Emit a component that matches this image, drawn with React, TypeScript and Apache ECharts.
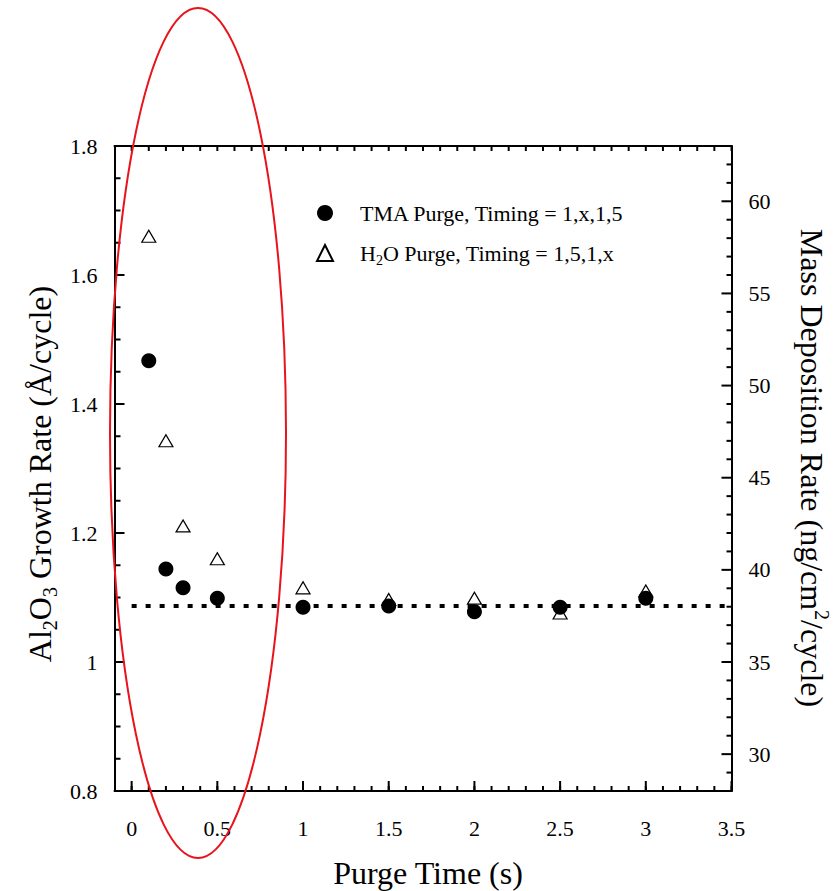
import React, { useEffect, useRef } from "react";
import * as echarts from "echarts";

const FONT = "'Liberation Serif', 'DejaVu Serif', serif";

// Purge times (s) and growth rates (Å/cycle)
const tmaX = [0.1, 0.2, 0.3, 0.5, 1, 1.5, 2, 2.5, 3];
const tmaY = [1.467, 1.144, 1.115, 1.099, 1.085, 1.087, 1.078, 1.085, 1.099];
const h2oX = [0.1, 0.2, 0.3, 0.5, 1, 1.5, 2, 2.5, 3];
const h2oY = [1.66, 1.343, 1.211, 1.16, 1.115, 1.097, 1.099, 1.076, 1.11];

const saturationX = [0, 3.5];
const saturationY = 1.087;

const xTickLabels = [0, 0.5, 1, 1.5, 2, 2.5, 3, 3.5];
const xMinorTicks = [
  0, 0.1, 0.2, 0.3, 0.4, 0.5, 0.6, 0.7, 0.8, 0.9, 1, 1.1, 1.2, 1.3, 1.4, 1.5,
  1.6, 1.7, 1.8, 1.9, 2, 2.1, 2.2, 2.3, 2.4, 2.5, 2.6, 2.7, 2.8, 2.9, 3, 3.1,
  3.2, 3.3, 3.4, 3.5,
];
const leftTickLabels = [0.8, 1, 1.2, 1.4, 1.6, 1.8];
const leftMinorTicks = [
  0.85, 0.9, 0.95, 1.05, 1.1, 1.15, 1.25, 1.3, 1.35, 1.45, 1.5, 1.55, 1.65,
  1.7, 1.75,
];
const rightTickLabels = [30, 35, 40, 45, 50, 55, 60];
const rightMinorTicks = [
  28, 29, 31, 32, 33, 34, 36, 37, 38, 39, 41, 42, 43, 44, 46, 47, 48, 49, 51,
  52, 53, 54, 56, 57, 58, 59, 61, 62, 63,
];

const X_MIN = -0.1;
const X_MAX = 3.5;
const Y_MIN = 0.8;
const Y_MAX = 1.8;
const R_MIN = 28;
const R_MAX = 63;

const tmaName = "TMA Purge, Timing = 1,x,1,5";
const h2oName = "H2O Purge, Timing = 1,5,1,x";

function tickSeries(
  points: number[][],
  yAxisIndex: number,
  dx: number,
  dy: number
) {
  return {
    type: "custom",
    xAxisIndex: 0,
    yAxisIndex,
    silent: true,
    clip: false,
    z: 5,
    encode: { x: 0, y: 1 },
    data: points,
    renderItem: (_params: any, api: any) => {
      const p = api.coord([api.value(0), api.value(1)]);
      return {
        type: "line",
        shape: { x1: p[0], y1: p[1], x2: p[0] + dx, y2: p[1] + dy },
        style: { stroke: "#000", lineWidth: 2 },
      };
    },
  };
}

export default function App() {
  const ref = useRef<HTMLDivElement>(null);

  useEffect(() => {
    if (!ref.current) return;
    const chart = echarts.init(ref.current, undefined, { renderer: "svg" });

    const axisLine = () => ({
      show: true,
      onZero: false,
      lineStyle: { color: "#000", width: 2 },
    });
    const labelStyle = () => ({ color: "#000", fontFamily: FONT, fontSize: 22 });

    const option: any = {
      animation: false,
      backgroundColor: "#fff",
      textStyle: { fontFamily: FONT },
      grid: { left: 114.5, top: 146, width: 617, height: 645 },
      legend: {
        orient: "vertical",
        left: 311,
        top: 197,
        itemWidth: 16,
        itemHeight: 16,
        itemGap: 18,
        data: [tmaName, h2oName],
        formatter: (name: string) =>
          name === h2oName
            ? "{n|H}{s|2}{n|O Purge, Timing = 1,5,1,x}"
            : "{n|" + name + "}",
        textStyle: {
          color: "#000",
          fontFamily: FONT,
          fontSize: 22,
          padding: [0, 0, 0, 22],
          rich: {
            n: { color: "#000", fontFamily: FONT, fontSize: 22, lineHeight: 28 },
            s: {
              color: "#000",
              fontFamily: FONT,
              fontSize: 14,
              lineHeight: 14,
              verticalAlign: "bottom",
            },
          },
        },
      },
      xAxis: [
        {
          type: "value",
          position: "bottom",
          min: X_MIN,
          max: X_MAX,
          axisLine: axisLine(),
          splitLine: { show: false },
          axisTick: { show: false },
          axisLabel: { ...labelStyle(), margin: 26, customValues: xTickLabels },
        },
        {
          type: "value",
          position: "top",
          min: X_MIN,
          max: X_MAX,
          axisLine: axisLine(),
          splitLine: { show: false },
          axisTick: { show: false },
          axisLabel: { show: false },
        },
      ],
      yAxis: [
        {
          type: "value",
          position: "left",
          min: Y_MIN,
          max: Y_MAX,
          interval: 0.2,
          axisLine: axisLine(),
          splitLine: { show: false },
          axisTick: { show: false },
          axisLabel: { ...labelStyle(), margin: 17 },
        },
        {
          type: "value",
          position: "right",
          min: R_MIN,
          max: R_MAX,
          axisLine: axisLine(),
          splitLine: { show: false },
          axisTick: { show: false },
          axisLabel: { ...labelStyle(), margin: 17, customValues: rightTickLabels },
        },
      ],
      series: [
        {
          name: "saturation",
          type: "line",
          xAxisIndex: 0,
          yAxisIndex: 0,
          data: saturationX.map((x) => [x, saturationY]),
          symbol: "none",
          silent: true,
          lineStyle: { color: "#000", width: 4, type: [5, 9] },
          z: 1,
        },
        {
          name: h2oName,
          type: "scatter",
          xAxisIndex: 0,
          yAxisIndex: 0,
          data: h2oX.map((x, i) => [x, h2oY[i]]),
          symbol: "triangle",
          symbolSize: [14, 12],
          itemStyle: { color: "#fff", borderColor: "#000", borderWidth: 1.2, opacity: 1 },
          z: 2,
        },
        {
          name: tmaName,
          type: "scatter",
          xAxisIndex: 0,
          yAxisIndex: 0,
          data: tmaX.map((x, i) => [x, tmaY[i]]),
          symbol: "circle",
          symbolSize: 15,
          itemStyle: { color: "#000", opacity: 1 },
          z: 3,
        },
        // bottom ticks
        tickSeries(xTickLabels.map((v) => [v, Y_MIN]), 0, 0, -10),
        tickSeries(xMinorTicks.map((v) => [v, Y_MIN]), 0, 0, -5),
        // top ticks
        tickSeries(xMinorTicks.map((v) => [v, Y_MAX]), 0, 0, 5),
        // left ticks
        tickSeries(leftTickLabels.map((v) => [X_MIN, v]), 0, 10, 0),
        tickSeries(leftMinorTicks.map((v) => [X_MIN, v]), 0, 6, 0),
        // right ticks
        tickSeries(rightTickLabels.map((v) => [X_MAX, v]), 1, -10, 0),
        tickSeries(rightMinorTicks.map((v) => [X_MAX, v]), 1, -5, 0),
      ],
      graphic: [
        {
          type: "text",
          x: 40,
          y: 474,
          rotation: Math.PI / 2,
          style: {
            text: "{n|Al}{s|2}{n|O}{s|3}{n| Growth Rate (Å/cycle)}",
            align: "center",
            verticalAlign: "middle",
            fontFamily: FONT,
            rich: {
              n: { fill: "#000", fontFamily: FONT, fontSize: 32, lineHeight: 40 },
              s: {
                fill: "#000",
                fontFamily: FONT,
                fontSize: 20,
                lineHeight: 20,
                verticalAlign: "bottom",
              },
            },
          },
        },
        {
          type: "text",
          x: 812,
          y: 468,
          rotation: -Math.PI / 2,
          style: {
            text: "{n|Mass Deposition Rate (ng/cm}{p|2}{n|/cycle)}",
            align: "center",
            verticalAlign: "middle",
            fontFamily: FONT,
            rich: {
              n: { fill: "#000", fontFamily: FONT, fontSize: 32, lineHeight: 40 },
              p: {
                fill: "#000",
                fontFamily: FONT,
                fontSize: 20,
                lineHeight: 20,
                verticalAlign: "top",
              },
            },
          },
        },
        {
          type: "text",
          x: 428,
          y: 873,
          style: {
            text: "Purge Time (s)",
            align: "center",
            verticalAlign: "middle",
            fill: "#000",
            fontFamily: FONT,
            fontSize: 32,
          },
        },
        {
          type: "ellipse",
          shape: { cx: 198, cy: 433, rx: 88, ry: 425 },
          style: { fill: "none", stroke: "#e8141b", lineWidth: 2 },
          z: 100,
          silent: true,
        },
      ],
    };

    chart.setOption(option);
    return () => chart.dispose();
  }, []);

  return (
    <div
      ref={ref}
      style={{ position: "absolute", left: 0, top: 0, width: 840, height: 891 }}
    />
  );
}
